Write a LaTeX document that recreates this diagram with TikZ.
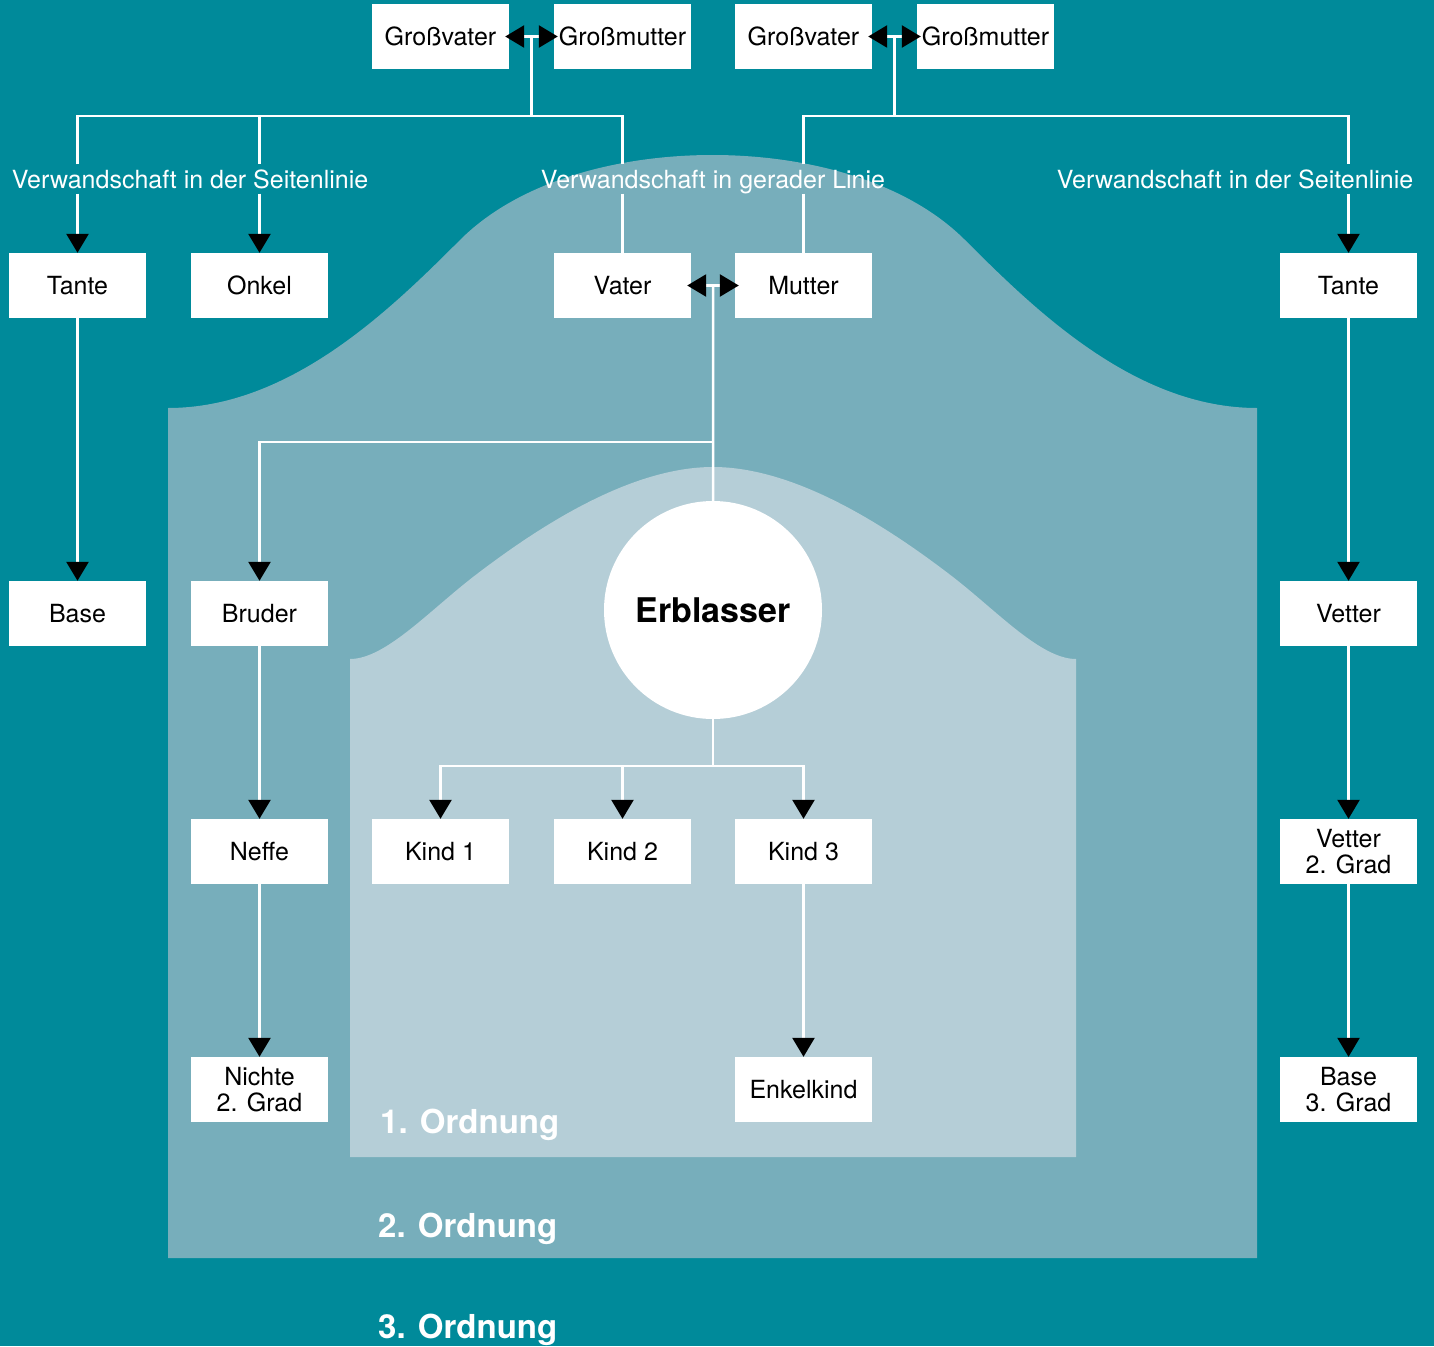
\documentclass[tikz,border=0pt]{standalone}
\usepackage{fontspec}
\setmainfont{TeX Gyre Heros}
\usetikzlibrary{arrows.meta,calc}
\definecolor{bgteal}{RGB}{0,138,154}
\definecolor{midteal}{RGB}{119,174,187}
\definecolor{lightteal}{RGB}{181,206,215}
\begin{document}
\begin{tikzpicture}[x=1pt,y=-1pt,
  box/.style={fill=white, minimum width=137pt, minimum height=65pt, inner sep=0pt,
              font=\fontsize{25}{26}\selectfont, align=center, text=black},
  lbl/.style={text=white, font=\fontsize{25}{26}\selectfont, inner xsep=0pt, inner ysep=5.5pt,
              text height=18pt, text depth=0pt},
  ord/.style={text=white, font=\fontsize{33}{36}\selectfont\bfseries, inner sep=0pt, anchor=base west},
  ln/.style={draw=white, line width=2.5pt},
  tip/.style={-{Triangle[width=22pt,length=19pt,color=black]}},
  dtip/.style={{Triangle[width=22pt,length=19pt,color=black]}-{Triangle[width=22pt,length=19pt,color=black]},
               shorten <=-4pt, shorten >=-4pt},
]
\fill[bgteal] (0,0) rectangle (1434,1346);
\useasboundingbox (0,0) rectangle (1434,1346);

% 2. Ordnung area
\fill[midteal] (168,1258) -- (168,408)
  .. controls (290,408) and (390,310) .. (460,240)
  .. controls (520,180) and (620,155) .. (712.5,155)
  .. controls (805,155) and (905,180) .. (965,240)
  .. controls (1035,310) and (1135,408) .. (1257,408)
  -- (1257,1258) -- cycle;
% 1. Ordnung area
\fill[lightteal] (350,1157) -- (350,659)
  .. controls (385,659) and (428,612) .. (473,577)
  .. controls (538,527) and (630,467) .. (713,467)
  .. controls (796,467) and (888,527) .. (953,577)
  .. controls (998,612) and (1041,659) .. (1076,659)
  -- (1076,1157) -- cycle;

% nodes
\node[box] (gv1) at (440.5,36.5) {Großvater};
\node[box] (gm1) at (622.5,36.5) {Großmutter};
\node[box] (gv2) at (803.5,36.5) {Großvater};
\node[box] (gm2) at (985.5,36.5) {Großmutter};

\node[box] (tanteL) at (77.5,285.5) {Tante};
\node[box] (onkel) at (259.5,285.5) {Onkel};
\node[box] (vater) at (622.5,285.5) {Vater};
\node[box] (mutter) at (803.5,285.5) {Mutter};
\node[box] (tanteR) at (1348.5,285.5) {Tante};

\node[box] (baseL) at (77.5,613.5) {Base};
\node[box] (bruder) at (259.5,613.5) {Bruder};
\node[box] (vetter) at (1348.5,613.5) {Vetter};

\node[box] (neffe) at (259.5,851.5) {Neffe};
\node[box] (kind1) at (440.5,851.5) {Kind 1};
\node[box] (kind2) at (622.5,851.5) {Kind 2};
\node[box] (kind3) at (803.5,851.5) {Kind 3};
\node[box] (vetter2) at (1348.5,851.5) {Vetter\\2. Grad};

\node[box] (nichte) at (259.5,1089.5) {Nichte\\2. Grad};
\node[box] (enkel) at (803.5,1089.5) {Enkelkind};
\node[box] (base3) at (1348.5,1089.5) {Base\\3. Grad};

\node[circle, fill=white, minimum size=218pt, inner sep=0pt,
      font=\fontsize{34}{36}\selectfont\bfseries] (erb) at (713,610) {\raisebox{-3pt}{Erblasser}};

\node[lbl] (lblL) at (190,179) {Verwandschaft in der Seitenlinie};
\node[lbl] (lblM) at (713,179) {Verwandschaft in gerader Linie};
\node[lbl] (lblR) at (1235,179) {Verwandschaft in der Seitenlinie};

\node[ord] (o1) at (380,1133) {1. Ordnung};
\node[ord] (o2) at (378,1237) {2. Ordnung};
\node[ord] (o3) at (378,1338) {3. Ordnung};

% helper coordinates
\coordinate (gp1) at ($(gv1.east)!0.5!(gm1.west)$);
\coordinate (gp2) at ($(gv2.east)!0.5!(gm2.west)$);
\coordinate (pm) at ($(vater.east)!0.5!(mutter.west)$);
\coordinate (bar) at (0,116);
\coordinate (sib) at (0,442);
\coordinate (kb) at (0,766);

% left grandparents
\draw[ln] (gp1) -- (gp1 |- bar);
\draw[ln] (tanteL.north |- lblL.north) |- (vater.north |- bar) -- (vater.north |- lblM.north);
\draw[ln] (onkel.north |- bar) -- (onkel.north |- lblL.north);
\draw[ln,tip] (tanteL.north |- lblL.south) -- (tanteL.north);
\draw[ln,tip] (onkel.north |- lblL.south) -- (onkel.north);
\draw[ln] (vater.north |- lblM.south) -- (vater.north);
\draw[ln,dtip] (gv1.east) -- (gm1.west);

% right grandparents
\draw[ln] (gp2) -- (gp2 |- bar);
\draw[ln] (mutter.north |- lblM.north) |- (tanteR.north |- bar) -- (tanteR.north |- lblR.north);
\draw[ln] (mutter.north |- lblM.south) -- (mutter.north);
\draw[ln,tip] (tanteR.north |- lblR.south) -- (tanteR.north);
\draw[ln,dtip] (gv2.east) -- (gm2.west);

% parents
\draw[ln] (pm) -- (erb.north);
\draw[ln,tip] (pm |- sib) -| (bruder.north);
\draw[ln,dtip] (vater.east) -- (mutter.west);

% children
\draw[ln] (erb.south) -- (erb.south |- kb);
\draw[ln,tip] (erb.south |- kb) -| (kind1.north);
\draw[ln,tip] (erb.south |- kb) -| (kind3.north);
\draw[ln,tip] (kind2.north |- kb) -- (kind2.north);

% chains
\draw[ln,tip] (tanteL) -- (baseL);
\draw[ln,tip] (bruder) -- (neffe);
\draw[ln,tip] (neffe) -- (nichte);
\draw[ln,tip] (kind3) -- (enkel);
\draw[ln,tip] (tanteR) -- (vetter);
\draw[ln,tip] (vetter) -- (vetter2);
\draw[ln,tip] (vetter2) -- (base3);
\end{tikzpicture}
\end{document}
